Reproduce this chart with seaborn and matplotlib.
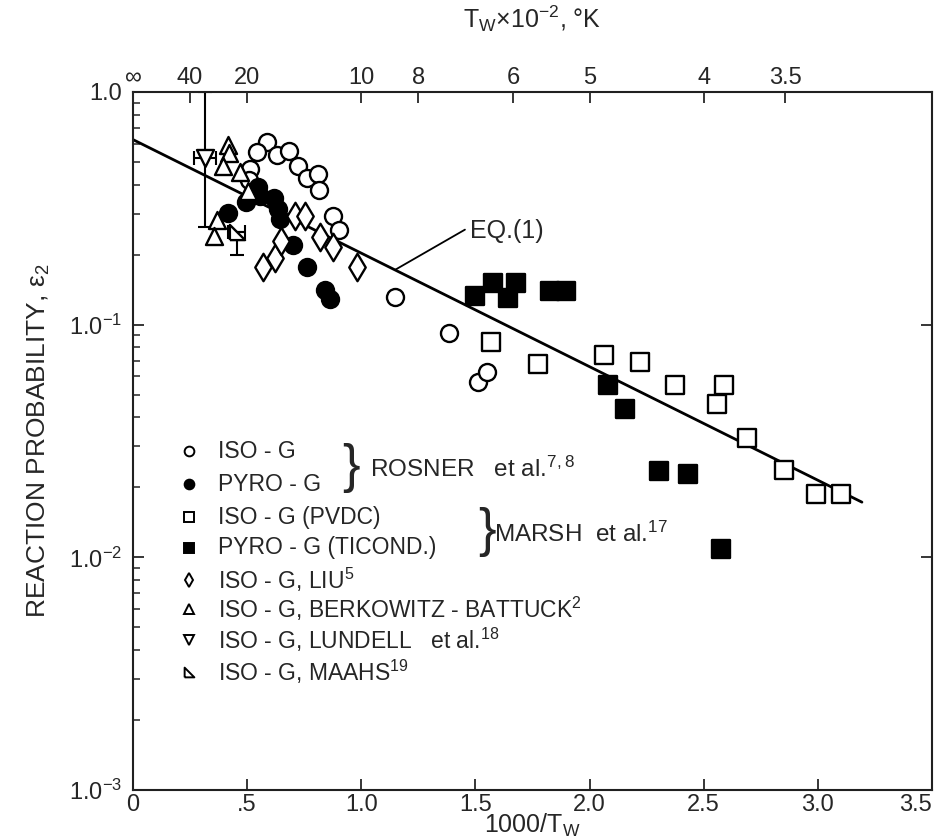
import numpy as np
import pandas as pd
import seaborn as sns
import matplotlib.pyplot as plt
from matplotlib.ticker import LogLocator, NullFormatter, FixedLocator

# ---- data (x = 1000/Tw, y = reaction probability) ----
rosner_iso_x = [0.586, 0.544, 0.629, 0.683, 0.512, 0.724, 0.761, 0.812, 0.816, 0.508,
                0.877, 0.904, 1.148, 1.385, 1.512, 1.549]
rosner_iso_y = [0.608, 0.551, 0.538, 0.556, 0.468, 0.480, 0.425, 0.446, 0.378, 0.417,
                0.294, 0.255, 0.132, 0.0918, 0.0567, 0.0626]

rosner_pyro_x = [0.417, 0.495, 0.549, 0.556, 0.618, 0.636, 0.644, 0.699, 0.762, 0.841, 0.863]
rosner_pyro_y = [0.303, 0.335, 0.391, 0.356, 0.351, 0.314, 0.284, 0.221, 0.177, 0.1415, 0.129]

marsh_iso_x = [1.567, 1.775, 2.064, 2.221, 2.374, 2.590, 2.559, 2.691, 2.852, 2.992, 3.101]
marsh_iso_y = [0.0846, 0.0679, 0.0738, 0.0689, 0.0553, 0.0553, 0.0458, 0.0327, 0.0238, 0.01875, 0.01875]

marsh_pyro_x = [1.499, 1.578, 1.641, 1.678, 1.825, 1.895, 2.079, 2.155, 2.305, 2.430, 2.576]
marsh_pyro_y = [0.1324, 0.1515, 0.130, 0.151, 0.140, 0.140, 0.0549, 0.0432, 0.0236, 0.0228, 0.0109]

liu_x = [0.571, 0.620, 0.648, 0.710, 0.753, 0.819, 0.874, 0.981]
liu_y = [0.177, 0.194, 0.228, 0.293, 0.293, 0.237, 0.216, 0.177]

berk_x = [0.417, 0.422, 0.393, 0.469, 0.505, 0.369, 0.356]
berk_y = [0.594, 0.544, 0.480, 0.453, 0.375, 0.282, 0.240]

lundell_x = [0.315]
lundell_y = [0.521]
lundell_xerr = [0.05]
lundell_yerr_lo = [0.258]
lundell_yerr_hi = [0.479]

maahs_x = [0.454]
maahs_y = [0.249]
maahs_xerr = [0.036]
maahs_yerr_lo = [0.05]

eq_x = [0.0, 3.193]
eq_y = [0.624, 0.01726]

top_T = [40, 20, 10, 8, 6, 5, 4, 3.5]
top_labels = ['40', '20', '10', '8', '6', '5', '4', '3.5']

sns.set_theme(style='ticks')
plt.rcParams['font.family'] = ['Liberation Sans', 'DejaVu Sans']
plt.rcParams['mathtext.default'] = 'regular'

fig = plt.figure(figsize=(9.4, 8.39), dpi=100)
ax = fig.add_axes([0.1415, 0.0584, 0.85, 0.832])

ms = 150
ew = 1.7
right_tri = [(-1, -1), (1, -1), (-1, 1), (-1, -1)]

sns.scatterplot(x=rosner_iso_x, y=rosner_iso_y, marker='o', s=ms, facecolor='white',
                edgecolor='black', linewidth=ew, ax=ax, zorder=3)
sns.scatterplot(x=rosner_pyro_x, y=rosner_pyro_y, marker='o', s=ms, color='black',
                edgecolor='black', linewidth=ew, ax=ax, zorder=3)
sns.scatterplot(x=marsh_iso_x, y=marsh_iso_y, marker='s', s=ms, facecolor='white',
                edgecolor='black', linewidth=ew, ax=ax, zorder=3)
sns.scatterplot(x=marsh_pyro_x, y=marsh_pyro_y, marker='s', s=ms, color='black',
                edgecolor='black', linewidth=ew, ax=ax, zorder=3)
sns.scatterplot(x=liu_x, y=liu_y, marker='d', s=ms * 1.3, facecolor='white',
                edgecolor='black', linewidth=ew, ax=ax, zorder=3)
sns.scatterplot(x=berk_x, y=berk_y, marker='^', s=ms, facecolor='white',
                edgecolor='black', linewidth=ew, ax=ax, zorder=3)

# error bars (Lundell, Maahs)
ax.errorbar(lundell_x, lundell_y, xerr=lundell_xerr, yerr=[lundell_yerr_lo, lundell_yerr_hi],
            fmt='none', ecolor='black', elinewidth=1.5, capsize=5, capthick=1.5, zorder=2)
sns.scatterplot(x=lundell_x, y=lundell_y, marker='v', s=ms, facecolor='white',
                edgecolor='black', linewidth=ew, ax=ax, zorder=4)
ax.errorbar(maahs_x, maahs_y, xerr=maahs_xerr, yerr=[maahs_yerr_lo, [0]],
            fmt='none', ecolor='black', elinewidth=1.5, capsize=5, capthick=1.5, zorder=2)
sns.scatterplot(x=maahs_x, y=maahs_y, marker=right_tri, s=ms * 0.8, facecolor='white',
                edgecolor='black', linewidth=ew, ax=ax, zorder=4)

# Eq. (1)
sns.lineplot(x=eq_x, y=eq_y, color='black', linewidth=2, ax=ax, zorder=2)
ax.plot([1.148, 1.454], [0.172, 0.256], color='black', linewidth=1.3)
ax.text(1.476, 0.2535, 'EQ.(1)', fontsize=18, va='center', ha='left')

ax.set_yscale('log')
ax.set_xlim(0, 3.5)
ax.set_ylim(1e-3, 1.0)
ax.set_xticks([0, 0.5, 1.0, 1.5, 2.0, 2.5, 3.0, 3.5])
ax.set_xticklabels(['0', '.5', '1.0', '1.5', '2.0', '2.5', '3.0', '3.5'])
ax.get_xticklabels()[-1].set_horizontalalignment('right')
ax.set_yticks([1e-3, 1e-2, 1e-1, 1.0])
ax.set_yticklabels(['1.0$^{-3}$', '1.0$^{-2}$', '1.0$^{-1}$', '1.0'])
ax.yaxis.set_minor_locator(LogLocator(base=10, subs=np.arange(2, 10)))
ax.yaxis.set_minor_formatter(NullFormatter())
ax.tick_params(axis='both', which='major', direction='in', length=8, width=1.3,
               labelsize=17, right=True)
ax.tick_params(axis='x', which='major', pad=3)
ax.tick_params(axis='y', which='major', pad=8)
ax.tick_params(axis='y', which='minor', direction='in', length=5, width=1.1)
for sp in ax.spines.values():
    sp.set_linewidth(1.5)
    sp.set_color('black')

ax.set_xlabel('1000/T$_W$', fontsize=18, labelpad=-3)
ax.set_ylabel('REACTION PROBABILITY, ε$_2$', fontsize=19, labelpad=12)

# top temperature axis
top = ax.twiny()
top.set_xlim(ax.get_xlim())
top.xaxis.set_major_locator(FixedLocator([0] + [10 / t for t in top_T]))
top.set_xticklabels(['∞'] + top_labels)
top.tick_params(axis='x', direction='in', length=8, width=1.3, labelsize=17, pad=2)
top.set_xlabel('T$_W$×10$^{-2}$, °K', fontsize=18, labelpad=28)

# hand-made key
kx, tx = 0.070, 0.106
rows = [0.4850, 0.4380, 0.3910, 0.3470, 0.3015, 0.2590, 0.2150, 0.1690]
keys = [('o', 'white'), ('o', 'black'), ('s', 'white'), ('s', 'black'),
        ('d', 'white'), ('^', 'white'), ('v', 'white'), (right_tri, 'white')]
texts = ['ISO - G', 'PYRO - G', 'ISO - G (PVDC)', 'PYRO - G (TICOND.)',
         'ISO - G, LIU$^{5}$', 'ISO - G, BERKOWITZ - BATTUCK$^{2}$',
         'ISO - G, LUNDELL   et al.$^{18}$', 'ISO - G, MAAHS$^{19}$']
for (m, fc), yy, t in zip(keys, rows, texts):
    ax.plot([kx], [yy], marker=m, markersize=7, markerfacecolor=fc, markeredgecolor='black',
            markeredgewidth=1.4, linestyle='none', transform=ax.transAxes)
    ax.text(tx, yy, t, fontsize=16.5, va='center', ha='left', transform=ax.transAxes)

ax.text(0.262, 0.462, '}', fontsize=38, va='center', ha='left', transform=ax.transAxes)
ax.text(0.297, 0.459, 'ROSNER   et al.$^{7,8}$', fontsize=17.5, va='center', ha='left',
        transform=ax.transAxes)
ax.text(0.432, 0.369, '}', fontsize=38, va='center', ha='left', transform=ax.transAxes)
ax.text(0.452, 0.366, 'MARSH  et al.$^{17}$', fontsize=17.5, va='center', ha='left',
        transform=ax.transAxes)

plt.savefig('out.png', dpi=100)
